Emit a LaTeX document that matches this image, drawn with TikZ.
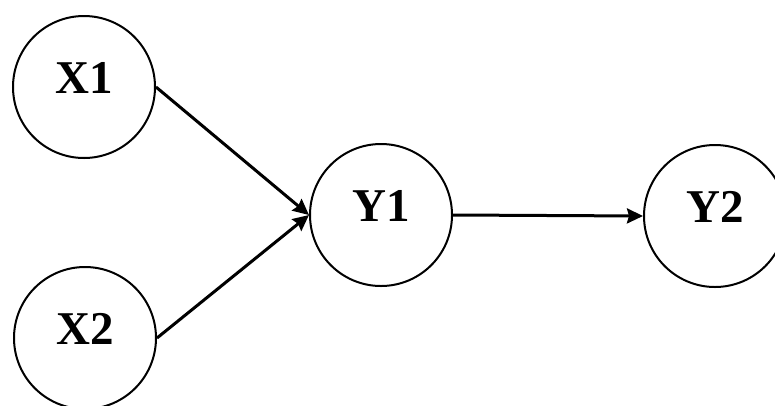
\documentclass[tikz,border=0pt]{standalone}
\usepackage{fontspec}
\setmainfont{Liberation Serif}[BoldFont={Liberation Serif Bold}]
\usetikzlibrary{arrows.meta}
\begin{document}
\begin{tikzpicture}[x=1pt,y=-1pt,
  circ/.style={circle,draw=black,line width=2pt,minimum size=142pt,inner sep=0pt},
  lab/.style={font=\fontsize{47}{50}\selectfont\bfseries},
  conn/.style={line width=3pt,-{Stealth[length=16pt,width=15pt,inset=2pt]}}]
\useasboundingbox (0,0) rectangle (775,405);
\node[circ,label={[lab,yshift=9pt]center:X1}] (x1) at (84,87) {};
\node[circ,label={[lab,yshift=9pt]center:X2}] (x2) at (85,338) {};
\node[circ,label={[lab,yshift=9pt]center:Y1}] (y1) at (381,215) {};
\node[circ,label={[lab,yshift=9pt]center:Y2}] (y2) at (715,216) {};
\draw[conn] (x1.east) -- (y1.west);
\draw[conn] (x2.east) -- (y1.west);
\draw[conn] (y1.east) -- (y2.west);
\end{tikzpicture}
\end{document}
